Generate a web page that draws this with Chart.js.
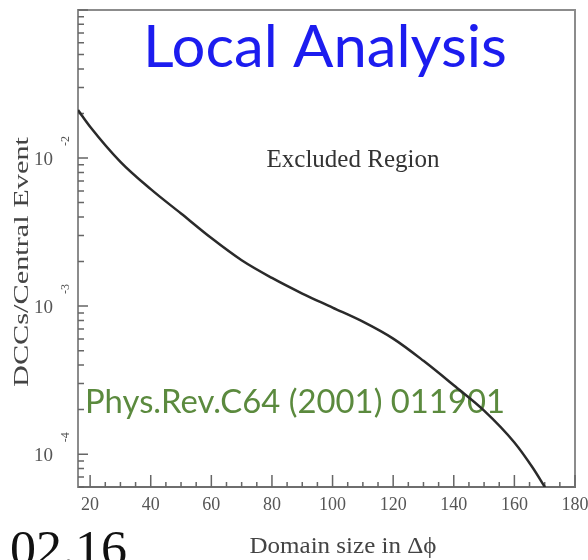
<!DOCTYPE html>
<html>
<head>
<meta charset="utf-8">
<script src="https://cdn.jsdelivr.net/npm/chart.js@4.4.1/dist/chart.umd.min.js"></script>
<style>
  html, body { margin: 0; padding: 0; background: #fff; }
</style>
</head>
<body>
<canvas id="c" width="588" height="560"></canvas>
<script>
// DCC rate per central event vs domain size
const domainSize = [16, 20, 30, 40, 50, 60, 70, 80, 90, 100, 110, 120, 130, 140, 150, 160, 166, 170.1];
const dccRate = [0.02109, 0.01629, 0.00944, 0.00617, 0.00422, 0.00288, 0.00204, 0.00155, 0.001216, 0.000977, 0.000785, 0.000603, 0.000427, 0.000292, 0.000197, 0.000120, 0.0000813, 0.0000598];

const xTicks = [20, 40, 60, 80, 100, 120, 140, 160, 180];
const yDecades = [1e-4, 1e-3, 1e-2];
const yExponents = ['-4', '-3', '-2'];

const serif = '"Liberation Serif", "DejaVu Serif", serif';

function putText(ctx, str, x, y, o) {
    ctx.save();
    ctx.font = o.font;
    ctx.fillStyle = o.color;
    ctx.textAlign = o.align || 'center';
    ctx.textBaseline = o.baseline || 'alphabetic';
    ctx.translate(x, y);
    if (o.rot) ctx.rotate(o.rot);
    if (o.width) ctx.scale(o.width / ctx.measureText(str).width, 1);
    ctx.fillText(str, 0, 0);
    ctx.restore();
}

const decor = {
    id: 'decor',
    beforeDatasetsDraw(chart) {
        const ctx = chart.ctx;
        const a = chart.chartArea;
        const xs = chart.scales.x, ys = chart.scales.y;

        // frame top + right
        ctx.save();
        ctx.strokeStyle = '#8c8c8c';
        ctx.lineWidth = 2;
        ctx.beginPath();
        ctx.moveTo(a.left, a.top);
        ctx.lineTo(a.right, a.top);
        ctx.lineTo(a.right, a.bottom);
        ctx.stroke();

        // inward ticks
        ctx.strokeStyle = '#666';
        ctx.lineWidth = 1.5;
        ctx.beginPath();
        for (let v = 20; v <= 180; v += 5) {
            const px = xs.getPixelForValue(v);
            const len = v % 20 === 0 ? 12 : 5;
            ctx.moveTo(px, a.bottom);
            ctx.lineTo(px, a.bottom - len);
        }
        for (let e = -5; e <= -1; e++) {
            for (let m = 1; m <= 9; m++) {
                const v = m * Math.pow(10, e);
                if (v < ys.min || v > ys.max) continue;
                const py = ys.getPixelForValue(v);
                ctx.moveTo(a.left, py);
                ctx.lineTo(a.left + (m === 1 ? 10 : 6), py);
            }
        }
        ctx.stroke();
        ctx.restore();

        // y tick labels 10^n
        yDecades.forEach((v, i) => {
            const py = ys.getPixelForValue(v);
            putText(ctx, '10', 53, py + 2, {font: '19px ' + serif, color: '#555', align: 'right', baseline: 'middle'});
            putText(ctx, yExponents[i], 66, py - 17, {font: '12px ' + serif, color: '#555', baseline: 'middle', rot: -Math.PI / 2});
        });

        // axis titles
        putText(ctx, 'DCCs/Central Event', 22, 262, {font: '22px ' + serif, color: '#444', baseline: 'middle', rot: -Math.PI / 2, width: 250});
        putText(ctx, 'Domain size in Δϕ', 343, 553, {font: '23px ' + serif, color: '#444', width: 187});

        // annotations
        putText(ctx, 'Local Analysis', 143, 67, {font: '58px Lato', color: '#1c1cef', align: 'left', width: 364});
        putText(ctx, 'Excluded Region', 353, 167, {font: '25px ' + serif, color: '#333', width: 173});
        putText(ctx, 'Phys.Rev.C64 (2001) 011901', 85, 413, {font: '32px Lato', color: '#5b8a3e', align: 'left', width: 420});
        putText(ctx, '02.16', 10, 565, {font: '50px ' + serif, color: '#111', align: 'left', width: 117});
    }
};

new Chart(document.getElementById('c'), {
    type: 'line',
    data: {
        datasets: [{
            data: domainSize.map((x, i) => ({x: x, y: dccRate[i]})),
            borderColor: '#2a2a2a',
            borderWidth: 2.5,
            pointRadius: 0,
            cubicInterpolationMode: 'monotone',
        }]
    },
    options: {
        responsive: false,
        animation: false,
        layout: { padding: { top: 10, right: 0, left: 0, bottom: 0 } },
        plugins: { legend: { display: false }, tooltip: { enabled: false } },
        scales: {
            x: {
                type: 'linear',
                min: 16,
                max: 180,
                afterBuildTicks: s => { s.ticks = xTicks.map(v => ({value: v})); },
                afterFit: s => { s.height = 73; s.paddingLeft = 0; s.paddingRight = 13; },
                grid: { display: false, drawTicks: false },
                border: { display: true, color: '#6e6e6e', width: 2 },
                ticks: {
                    font: { family: serif, size: 18 },
                    color: '#555',
                    padding: 7,
                    maxRotation: 0,
                    autoSkip: false,
                },
            },
            y: {
                type: 'logarithmic',
                min: 6e-5,
                max: 0.1,
                afterBuildTicks: s => { s.ticks = yDecades.map(v => ({value: v})); },
                afterFit: s => { s.width = 78; },
                grid: { display: false, drawTicks: false },
                border: { display: true, color: '#8c8c8c', width: 2 },
                ticks: { display: false },
            },
        },
    },
    plugins: [decor],
});
</script>
</body>
</html>
